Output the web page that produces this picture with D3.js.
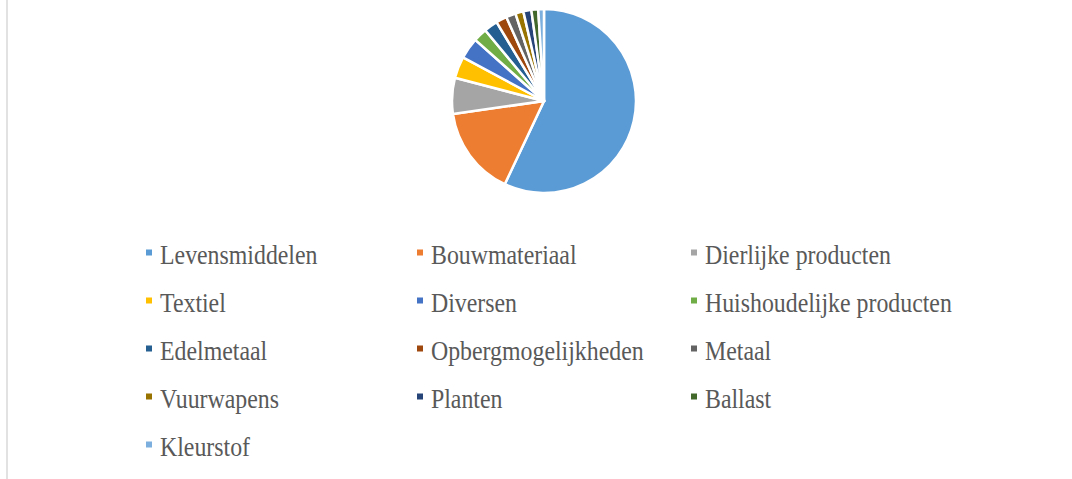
<!DOCTYPE html>
<html><head><meta charset="utf-8">
<script src="https://cdn.jsdelivr.net/npm/d3@7"></script>
<style>body{margin:0;background:#fff}svg{display:block}</style>
</head><body>
<svg id="c" width="1072" height="479"></svg>
<script>
const categories = ["Levensmiddelen","Bouwmateriaal","Dierlijke producten","Textiel","Diversen","Huishoudelijke producten","Edelmetaal","Opbergmogelijkheden","Metaal","Vuurwapens","Planten","Ballast","Kleurstof"];
const values = [56.9,15.7,6.3,3.8,3.7,2.4,2.4,1.9,1.7,1.4,1.4,1.2,1.0];
const colors = ["#5B9BD5","#ED7D31","#A5A5A5","#FFC000","#4472C4","#70AD47","#255E91","#9E480E","#636363","#997300","#264478","#43682B","#7CAFDD"];

const svg = d3.select("#c");
svg.append("line").attr("x1",7).attr("x2",7).attr("y1",0).attr("y2",479)
  .attr("stroke","#d9d9d9").attr("stroke-width",1.5);

const cx = 544, cy = 101, r = 92;
const pie = d3.pie().sort(null).value(d=>d);
const arc = d3.arc().innerRadius(0).outerRadius(r);
const g = svg.append("g").attr("transform",`translate(${cx},${cy})`);
g.selectAll("path").data(pie(values)).join("path")
  .attr("d",arc).attr("fill",(d,i)=>colors[i])
  .attr("stroke","#fff").attr("stroke-width",2.5).attr("stroke-linejoin","round");

const colX = [146, 417, 691];
const rowY = [264, 312, 360, 408, 456];
const lg = svg.append("g");
categories.forEach((c,i)=>{
  const x = colX[i%3], y = rowY[Math.floor(i/3)];
  lg.append("rect").attr("x",x).attr("y",y-14.5).attr("width",6).attr("height",6).attr("fill",colors[i]);
  lg.append("text")
    .attr("transform",`translate(${x+14},${y}) scale(0.9,1)`)
    .style("font-family",'"Liberation Serif"').style("font-size","26.5px").style("fill","#595959")
    .text(c);
});
</script>
</body></html>
